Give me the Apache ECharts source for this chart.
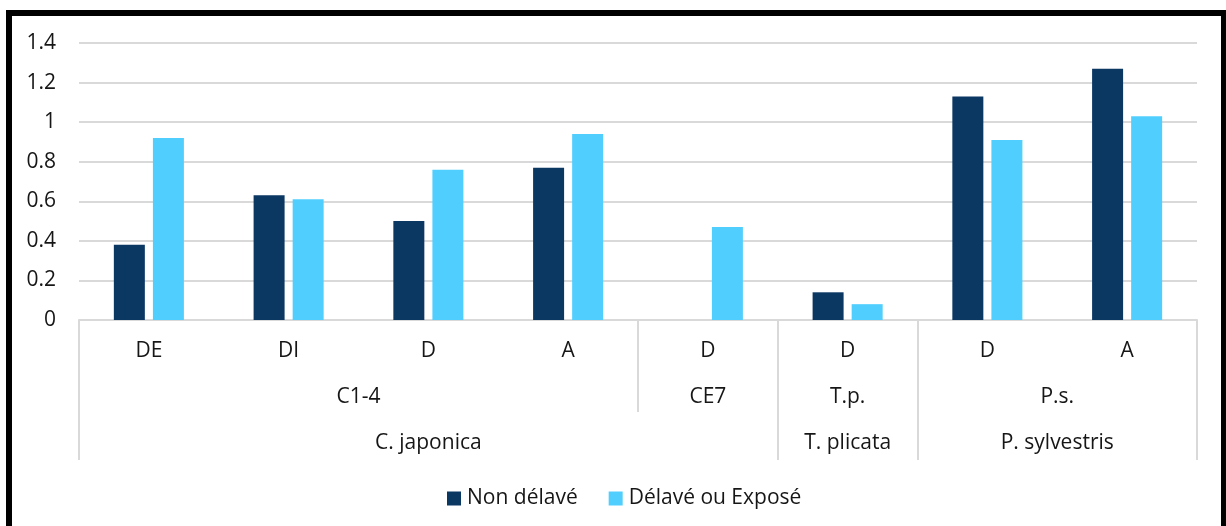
<!DOCTYPE html>
<html>
<head>
<meta charset="utf-8">
<script src="https://cdn.jsdelivr.net/npm/echarts@6/dist/echarts.min.js"></script>
<style>
  html, body { margin: 0; padding: 0; background: #fff; }
  #wrap { position: relative; width: 1226px; height: 526px; overflow: hidden; }
  #chart { position: absolute; left: 0; top: 0; width: 1226px; height: 526px; }
  #frame { position: absolute; left: 6px; top: 10px; width: 1221px; height: 600px;
           box-sizing: border-box; border: 6px solid #000; pointer-events: none; }
</style>
</head>
<body>
<div id="wrap">
  <div id="chart"></div>
  <div id="frame"></div>
</div>
<script>
// ---- data ----
const leafLabels = ['DE', 'DI', 'D', 'A', 'D', 'D', 'D', 'A'];
const level2Names = ['C1-4', 'CE7', 'T.p.', 'P.s.'];
const level2Counts = [4, 1, 1, 2];
const level3Names = ['C. japonica', 'T. plicata', 'P. sylvestris'];
const level3Counts = [5, 1, 2];
const seriesNames = ['Non délavé', 'Délavé ou Exposé'];
const nonDelave = [0.38, 0.63, 0.50, 0.77, null, 0.14, 1.13, 1.27];
const delaveExpose = [0.92, 0.61, 0.76, 0.94, 0.47, 0.08, 0.91, 1.03];
const yTicks = ['0', '0.2', '0.4', '0.6', '0.8', '1', '1.2', '1.4'];

// ---- group helpers (category-index units) ----
function groupInfo(names, counts) {
  const centers = {}, bounds = [0];
  let acc = 0;
  names.forEach((n, i) => {
    centers[acc + counts[i] / 2] = n;
    acc += counts[i];
    bounds.push(acc);
  });
  return { centers, bounds };
}
const g2 = groupInfo(level2Names, level2Counts);
const g3 = groupInfo(level3Names, level3Counts);

const FONT = 'Open Sans';
const FS = 21;
const TXT = '#161616';
const GRID = '#d9d9d9';
const DARK = '#0b3763';
const LIGHT = '#50cfff';

const chart = echarts.init(document.getElementById('chart'), null, { renderer: 'canvas' });
chart.setOption({
  animation: false,
  backgroundColor: 'transparent',
  textStyle: { fontFamily: FONT },
  grid: { left: 79, right: 29, top: 43, bottom: 206, containLabel: false },
  legend: {
    data: seriesNames,
    top: 483,
    left: 442,
    padding: 5,
    icon: 'rect',
    itemWidth: 14,
    itemHeight: 14,
    itemGap: 31,
    textStyle: { fontFamily: FONT, fontSize: FS, color: TXT, padding: [0, 0, 0, 1] }
  },
  xAxis: [
    {
      type: 'category',
      data: leafLabels,
      position: 'bottom',
      axisLine: { lineStyle: { color: GRID, width: 2 } },
      axisTick: { show: false },
      axisLabel: { fontFamily: FONT, fontSize: FS, color: TXT, margin: 21, interval: 0 },
      splitLine: { show: false }
    },
    {
      type: 'value',
      min: 0,
      max: leafLabels.length,
      position: 'bottom',
      axisLine: { show: false, onZero: false },
      splitLine: { show: false },
      axisTick: {
        show: true, length: 92, customValues: g2.bounds,
        lineStyle: { color: GRID, width: 2 }
      },
      axisLabel: {
        customValues: Object.keys(g2.centers).map(Number),
        formatter: v => g2.centers[v] || '',
        fontFamily: FONT, fontSize: FS, color: TXT, margin: 67
      }
    },
    {
      type: 'value',
      min: 0,
      max: leafLabels.length,
      position: 'bottom',
      axisLine: { show: false, onZero: false },
      splitLine: { show: false },
      axisTick: {
        show: true, length: 140, customValues: g3.bounds,
        lineStyle: { color: GRID, width: 2 }
      },
      axisLabel: {
        customValues: Object.keys(g3.centers).map(Number),
        formatter: v => g3.centers[v] || '',
        fontFamily: FONT, fontSize: FS, color: TXT, margin: 113
      }
    }
  ],
  yAxis: {
    type: 'value',
    min: 0,
    max: 1.4,
    interval: 0.2,
    axisLine: { show: false, onZero: false },
    axisTick: { show: false },
    axisLabel: {
      fontFamily: FONT, fontSize: FS, color: TXT, margin: 23,
      formatter: v => yTicks[Math.round(v / 0.2)]
    },
    splitLine: { lineStyle: { color: GRID, width: 2 } }
  },
  series: [
    {
      name: seriesNames[0], type: 'bar', xAxisIndex: 0, yAxisIndex: 0,
      data: nonDelave, barWidth: 31, barGap: '26%',
      itemStyle: { color: DARK }
    },
    {
      name: seriesNames[1], type: 'bar', xAxisIndex: 0, yAxisIndex: 0,
      data: delaveExpose, barWidth: 31, barGap: '26%',
      itemStyle: { color: LIGHT }
    }
  ]
});
</script>
</body>
</html>
